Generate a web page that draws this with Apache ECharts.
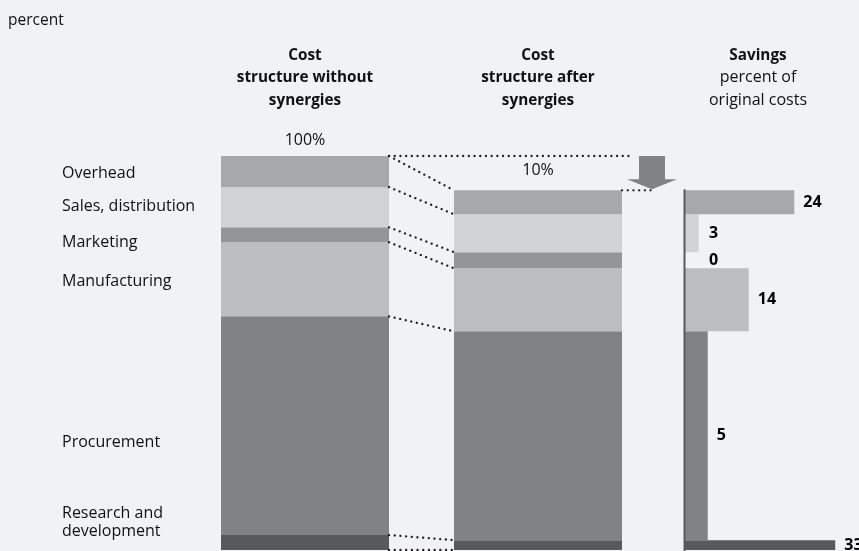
<!DOCTYPE html>
<html><head><meta charset="utf-8">
<script src="https://cdn.jsdelivr.net/npm/echarts@6/dist/echarts.min.js"></script>
<style>html,body{margin:0;padding:0;background:#f1f2f4;}#c{width:859px;height:551px;}</style>
</head><body><div id="c"></div>
<script>
// Categories from bottom of the stack to top
const categories = ['Research and development', 'Procurement', 'Manufacturing', 'Marketing', 'Sales, distribution', 'Overhead'];
const beforeValues = [3.8, 55.5, 18.8, 3.8, 10.2, 7.9];   // cost structure without synergies, percent
const afterValues  = [2.5, 53.0, 16.0, 4.1, 9.6, 6.1];    // cost structure after synergies, percent
const savingsValues = [33, 5, 14, 0, 3, 24];              // savings, percent of original costs
const columnKeys = ['without', 'after'];
const totalLabels = ['100%', '10%'];
const categoryLabels = ['Research and\ndevelopment', 'Procurement', 'Manufacturing', 'Marketing', 'Sales, distribution', 'Overhead'];

const colors = ['#58595b', '#808285', '#bcbdc0', '#939598', '#d1d2d4', '#a7a8ab'];
const FONT = '"Open Sans", "Noto Sans", sans-serif';
const BAR_W = 168;

function cumulative(arr) {
  const out = [0];
  arr.forEach(v => out.push(+(out[out.length - 1] + v).toFixed(4)));
  return out;
}
const cumBefore = cumulative(beforeValues);
const cumAfter = cumulative(afterValues);
const n = categories.length;

const chart = echarts.init(document.getElementById('c'), null, { renderer: 'canvas' });

const barSeries = categories.map((name, i) => ({
  name, type: 'bar', stack: 'cost', xAxisIndex: 0, yAxisIndex: 0,
  barWidth: BAR_W, silent: true,
  itemStyle: { color: colors[i] },
  data: i === n - 1
    ? [{ value: beforeValues[i], label: { distance: 7 } }, { value: afterValues[i], label: { distance: 11 } }]
    : [beforeValues[i], afterValues[i]],
  label: i === n - 1 ? {
    show: true, position: 'top', color: '#111', fontFamily: FONT, fontSize: 16, lineHeight: 18,
    formatter: p => totalLabels[p.dataIndex]
  } : { show: false }
}));

const dotted = { stroke: '#231f20', lineWidth: 2.3, lineDash: [0.1, 5.6], lineCap: 'round', fill: null };

const connectorSeries = {
  type: 'custom', xAxisIndex: 0, yAxisIndex: 0, silent: true, z: 5,
  data: cumBefore.map((v, i) => [0, v, cumAfter[i]]),
  encode: { x: 0, y: [1, 2] },
  renderItem: (params, api) => {
    const a = api.coord([0, api.value(1)]);
    const b = api.coord([1, api.value(2)]);
    return { type: 'polyline', shape: { points: [[a[0] + BAR_W / 2, a[1]], [b[0] - BAR_W / 2, b[1]]] }, style: dotted };
  }
};

const arrowSeries = {
  type: 'custom', xAxisIndex: 0, yAxisIndex: 0, silent: true, z: 6,
  data: [[1, cumBefore[n], cumAfter[n]]],
  encode: { x: 0, y: [1, 2] },
  renderItem: (params, api) => {
    const leftRight = api.coord([0, 0])[0] + BAR_W / 2;
    const rightRight = api.coord([1, 0])[0] + BAR_W / 2;
    const yTop = api.coord([0, api.value(1)])[1];
    const yBot = api.coord([1, api.value(2)])[1];
    const ax = rightRight + 30;
    return {
      type: 'group', children: [
        { type: 'polyline', shape: { points: [[leftRight, yTop], [ax - 22, yTop]] }, style: dotted },
        { type: 'polyline', shape: { points: [[rightRight, yBot], [ax, yBot]] }, style: dotted },
        { type: 'polygon', shape: { points: [
          [ax - 13, yTop], [ax + 13, yTop], [ax + 13, yBot - 11], [ax + 25, yBot - 11],
          [ax, yBot - 1], [ax - 25, yBot - 11], [ax - 13, yBot - 11]
        ] }, style: { fill: '#808285' } }
      ]
    };
  }
};

const savingsSeries = {
  type: 'custom', xAxisIndex: 1, yAxisIndex: 1, silent: true,
  data: categories.map((c, i) => [savingsValues[i], cumAfter[i], cumAfter[i + 1]]),
  encode: { x: 0, y: [1, 2] },
  renderItem: (params, api) => {
    const i = params.dataIndex;
    const base = api.coord([0, api.value(1)]);
    const top = api.coord([api.value(0), api.value(2)]);
    const minX = api.coord([3.3, 0])[0];
    const lx = Math.max(top[0], minX) + 9;
    return {
      type: 'group', children: [
        { type: 'rect', shape: { x: base[0], y: top[1], width: top[0] - base[0], height: base[1] - top[1] }, style: { fill: colors[i] } },
        { type: 'text', style: { text: String(api.value(0)), x: lx, y: (top[1] + base[1]) / 2,
          fill: '#000', fontFamily: FONT, fontWeight: 'bold', fontSize: 16, textVerticalAlign: 'middle', textAlign: 'left' } }
      ]
    };
  }
};

const savingsAxisSeries = {
  type: 'custom', xAxisIndex: 1, yAxisIndex: 1, silent: true, z: 4,
  data: [[0, 0, cumAfter[n]]],
  encode: { x: 0, y: [1, 2] },
  renderItem: (params, api) => {
    const a = api.coord([0, api.value(2)]);
    const b = api.coord([0, api.value(1)]);
    return { type: 'line', shape: { x1: a[0] - 0.5, y1: a[1] - 1, x2: b[0] - 0.5, y2: b[1] + 2 }, style: { stroke: '#58595b', lineWidth: 2 } };
  }
};

const titleStyle = { fontFamily: FONT, fontSize: 15.3, fill: '#111', textAlign: 'center', textVerticalAlign: 'top' };
const catLabelY = [522, 442, 281, 242, 206, 173];

const graphic = [
  { type: 'text', style: { text: 'percent', x: 8, y: 21, fontFamily: FONT, fontSize: 15.5, fill: '#111', textVerticalAlign: 'middle' } },
  { type: 'text', style: Object.assign({}, titleStyle, { x: 305, y: 44, text: 'Cost\nstructure without\nsynergies', fontWeight: 'bold', lineHeight: 22.5 }) },
  { type: 'text', style: Object.assign({}, titleStyle, { x: 538, y: 44, text: 'Cost\nstructure after\nsynergies', fontWeight: 'bold', lineHeight: 22.5 }) },
  { type: 'text', style: Object.assign({}, titleStyle, { x: 758, y: 44, text: '{b|Savings}\n{n|percent of}\n{n|original costs}',
    rich: { b: { fontWeight: 'bold', fontSize: 15.3, fontFamily: FONT, lineHeight: 22.5 }, n: { fontSize: 16, fontFamily: FONT, lineHeight: 22.5 } } }) }
].concat(categoryLabels.map((t, i) => ({
  type: 'text', style: { text: t, x: 62, y: catLabelY[i], fontFamily: FONT, fontSize: 16, fill: '#111', textVerticalAlign: 'middle', lineHeight: 18 }
})));

chart.setOption({
  backgroundColor: '#f1f2f4',
  animation: false,
  grid: [
    { left: 188.5, width: 466, top: 156, bottom: 1 },
    { left: 685, width: 173, top: 156, bottom: 1 }
  ],
  xAxis: [
    { type: 'category', gridIndex: 0, data: columnKeys, show: false },
    { type: 'value', gridIndex: 1, min: 0, max: 38, show: false }
  ],
  yAxis: [
    { type: 'value', gridIndex: 0, min: 0, max: 100, show: false },
    { type: 'value', gridIndex: 1, min: 0, max: 100, show: false }
  ],
  graphic,
  series: barSeries.concat([connectorSeries, arrowSeries, savingsAxisSeries, savingsSeries])
});
</script>
</body></html>
